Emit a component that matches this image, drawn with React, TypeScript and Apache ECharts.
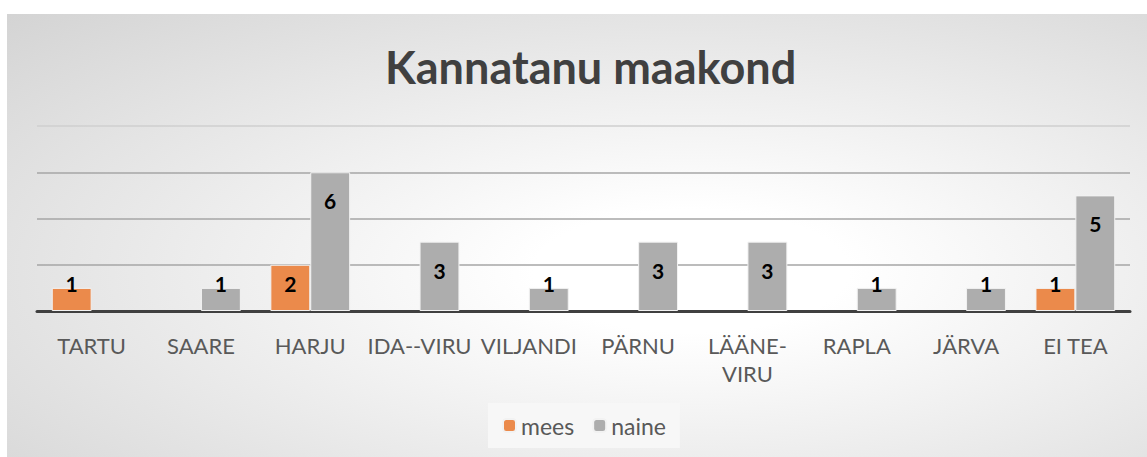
import React, { useEffect, useRef } from "react";
import * as echarts from "echarts";

const categories = ["TARTU", "SAARE", "HARJU", "IDA--VIRU", "VILJANDI", "PÄRNU", "LÄÄNE-VIRU", "RAPLA", "JÄRVA", "EI TEA"];
const mees: (number | null)[] = [1, null, 2, null, null, null, null, null, null, 1];
const naine: (number | null)[] = [null, 1, 6, 3, 1, 3, 3, 1, 1, 5];
const yTicks = { min: 0, max: 8, interval: 2 };

const FONT = "Lato, 'Open Sans', sans-serif";

function withLabels(values: (number | null)[]) {
  return values.map((v) => {
    if (v == null) return null;
    const small = v <= 2;
    return {
      value: v,
      label: small
        ? { position: "insideBottom", distance: 17 }
        : { position: "insideTop", distance: 18 },
    };
  });
}

export default function App() {
  const ref = useRef<HTMLDivElement>(null);
  useEffect(() => {
    if (!ref.current) return;
    const chart = echarts.init(ref.current, undefined, { renderer: "svg" });
    const labelStyle = {
      show: true,
      color: "#000",
      fontWeight: "bold",
      fontSize: 21,
      fontFamily: FONT,
    };
    chart.setOption({
      animation: false,
      backgroundColor: {
        type: "radial",
        x: 0.6,
        y: 0.58,
        r: 1.15,
        colorStops: [
          { offset: 0, color: "#ffffff" },
          { offset: 0.12, color: "#ffffff" },
          { offset: 1, color: "#c0c0c0" },
        ],
      },
      title: {
        text: "Kannatanu maakond",
        left: 373,
        top: 25,
        textStyle: { fontFamily: FONT, fontSize: 45, fontWeight: "bold", color: "#404040" },
      },
      legend: {
        bottom: 9,
        left: 481,
        backgroundColor: "#f7f7f7",
        padding: [11, 14, 11, 14],
        itemWidth: 13,
        itemHeight: 13,
        itemGap: 18,
        textStyle: { fontFamily: FONT, fontSize: 23, color: "#595959" },
        data: ["mees", "naine"],
      },
      grid: { left: 30, right: 17, top: 112, bottom: 146 },
      xAxis: {
        type: "category",
        data: categories,
        axisLine: { lineStyle: { color: "#404040", width: 3 } },
        axisTick: { show: false },
        axisLabel: {
          fontFamily: FONT,
          fontSize: 22,
          color: "#595959",
          margin: 20,
          lineHeight: 28,
          interval: 0,
          formatter: (v: string) => v.replace(/([^-])-([^-])/, "$1-\n$2"),
        },
      },
      yAxis: {
        type: "value",
        min: yTicks.min,
        max: yTicks.max,
        interval: yTicks.interval,
        axisLabel: { show: false },
        axisLine: { show: false },
        axisTick: { show: false },
        splitLine: { lineStyle: { color: ["#a6a6a6", "#a6a6a6", "#a6a6a6", "#a6a6a6", "#cfcfcf"], width: 1.5 } },
      },
      series: [
        {
          name: "mees",
          type: "bar",
          data: withLabels(mees),
          barGap: "0%",
          barCategoryGap: "27%",
          itemStyle: { color: "#EB8A4B", borderColor: "#f2f2f2", borderWidth: 1 },
          label: labelStyle,
        },
        {
          name: "naine",
          type: "bar",
          data: withLabels(naine),
          barGap: "0%",
          barCategoryGap: "27%",
          itemStyle: { color: "#ADADAD", borderColor: "#f2f2f2", borderWidth: 1 },
          label: labelStyle,
        },
      ],
    });
    return () => chart.dispose();
  }, []);
  return (
    <div
      ref={ref}
      style={{ position: "absolute", left: 7, top: 14, width: 1140, height: 443 }}
    />
  );
}
